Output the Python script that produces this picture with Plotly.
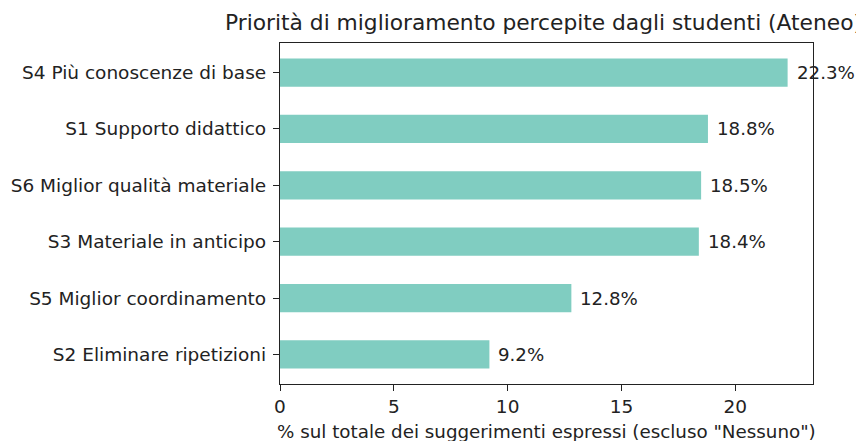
import plotly.graph_objects as go

categories = ["S4 Più conoscenze di base", "S1 Supporto didattico", "S6 Miglior qualità materiale",
              "S3 Materiale in anticipo", "S5 Miglior coordinamento", "S2 Eliminare ripetizioni"]
values = [22.3, 18.8, 18.5, 18.4, 12.8, 9.2]
tick_vals = [0, 5, 10, 15, 20]

FONT = "DejaVu Sans"
FS = 18.5
# the page body has an 8px margin: size the figure so it ends at the window edge
W, H = 856, 433
OFF = 8
fig = go.Figure()
fig.add_trace(go.Bar(
    x=values, y=categories, orientation="h", width=0.5,
    marker=dict(color="#80CDC1", line=dict(width=0)),
    hoverinfo="skip",
))
for c, v in zip(categories, values):
    fig.add_annotation(x=v, y=c, text=f"{v:.1f}%", showarrow=False,
                       xanchor="left", yanchor="middle", xshift=7,
                       font=dict(family=FONT, size=18.2, color="#222"))

fig.update_layout(
    width=W, height=H,
    margin=dict(l=280 - OFF, r=51, t=43 - OFF, b=57, autoexpand=False),
    plot_bgcolor="white", paper_bgcolor="white",
    showlegend=False,
    font=dict(family=FONT, size=FS, color="#222"),
    title=dict(text="Priorità di miglioramento percepite dagli studenti (Ateneo)",
               x=(543.5 - OFF) / W, xanchor="center", xref="container",
               y=1 - (22 - OFF) / H, yanchor="middle", yref="container",
               font=dict(family=FONT, size=21.75, color="#222")),
    xaxis=dict(range=[0, 23.415], tickvals=tick_vals, ticks="outside", ticklen=6,
               tickcolor="#222", tickwidth=1.2, showgrid=False, zeroline=False,
               showline=True, linecolor="#222", linewidth=1.2, mirror=True,
               tickfont=dict(family=FONT, size=FS, color="#222")),
    yaxis=dict(range=[5.525, -0.525], ticks="outside", ticklen=6,
               tickcolor="#222", tickwidth=1.2, showgrid=False, zeroline=False,
               showline=True, linecolor="#222", linewidth=1.2, mirror=True,
               ticklabelstandoff=3,
               tickfont=dict(family=FONT, size=FS, color="#222")),
)
fig.add_annotation(text='% sul totale dei suggerimenti espressi (escluso "Nessuno")',
                   xref="paper", yref="paper", x=0.5, y=0, yshift=-47,
                   showarrow=False, xanchor="center", yanchor="middle",
                   font=dict(family=FONT, size=18.3, color="#222"))
fig.write_html("out.html")
